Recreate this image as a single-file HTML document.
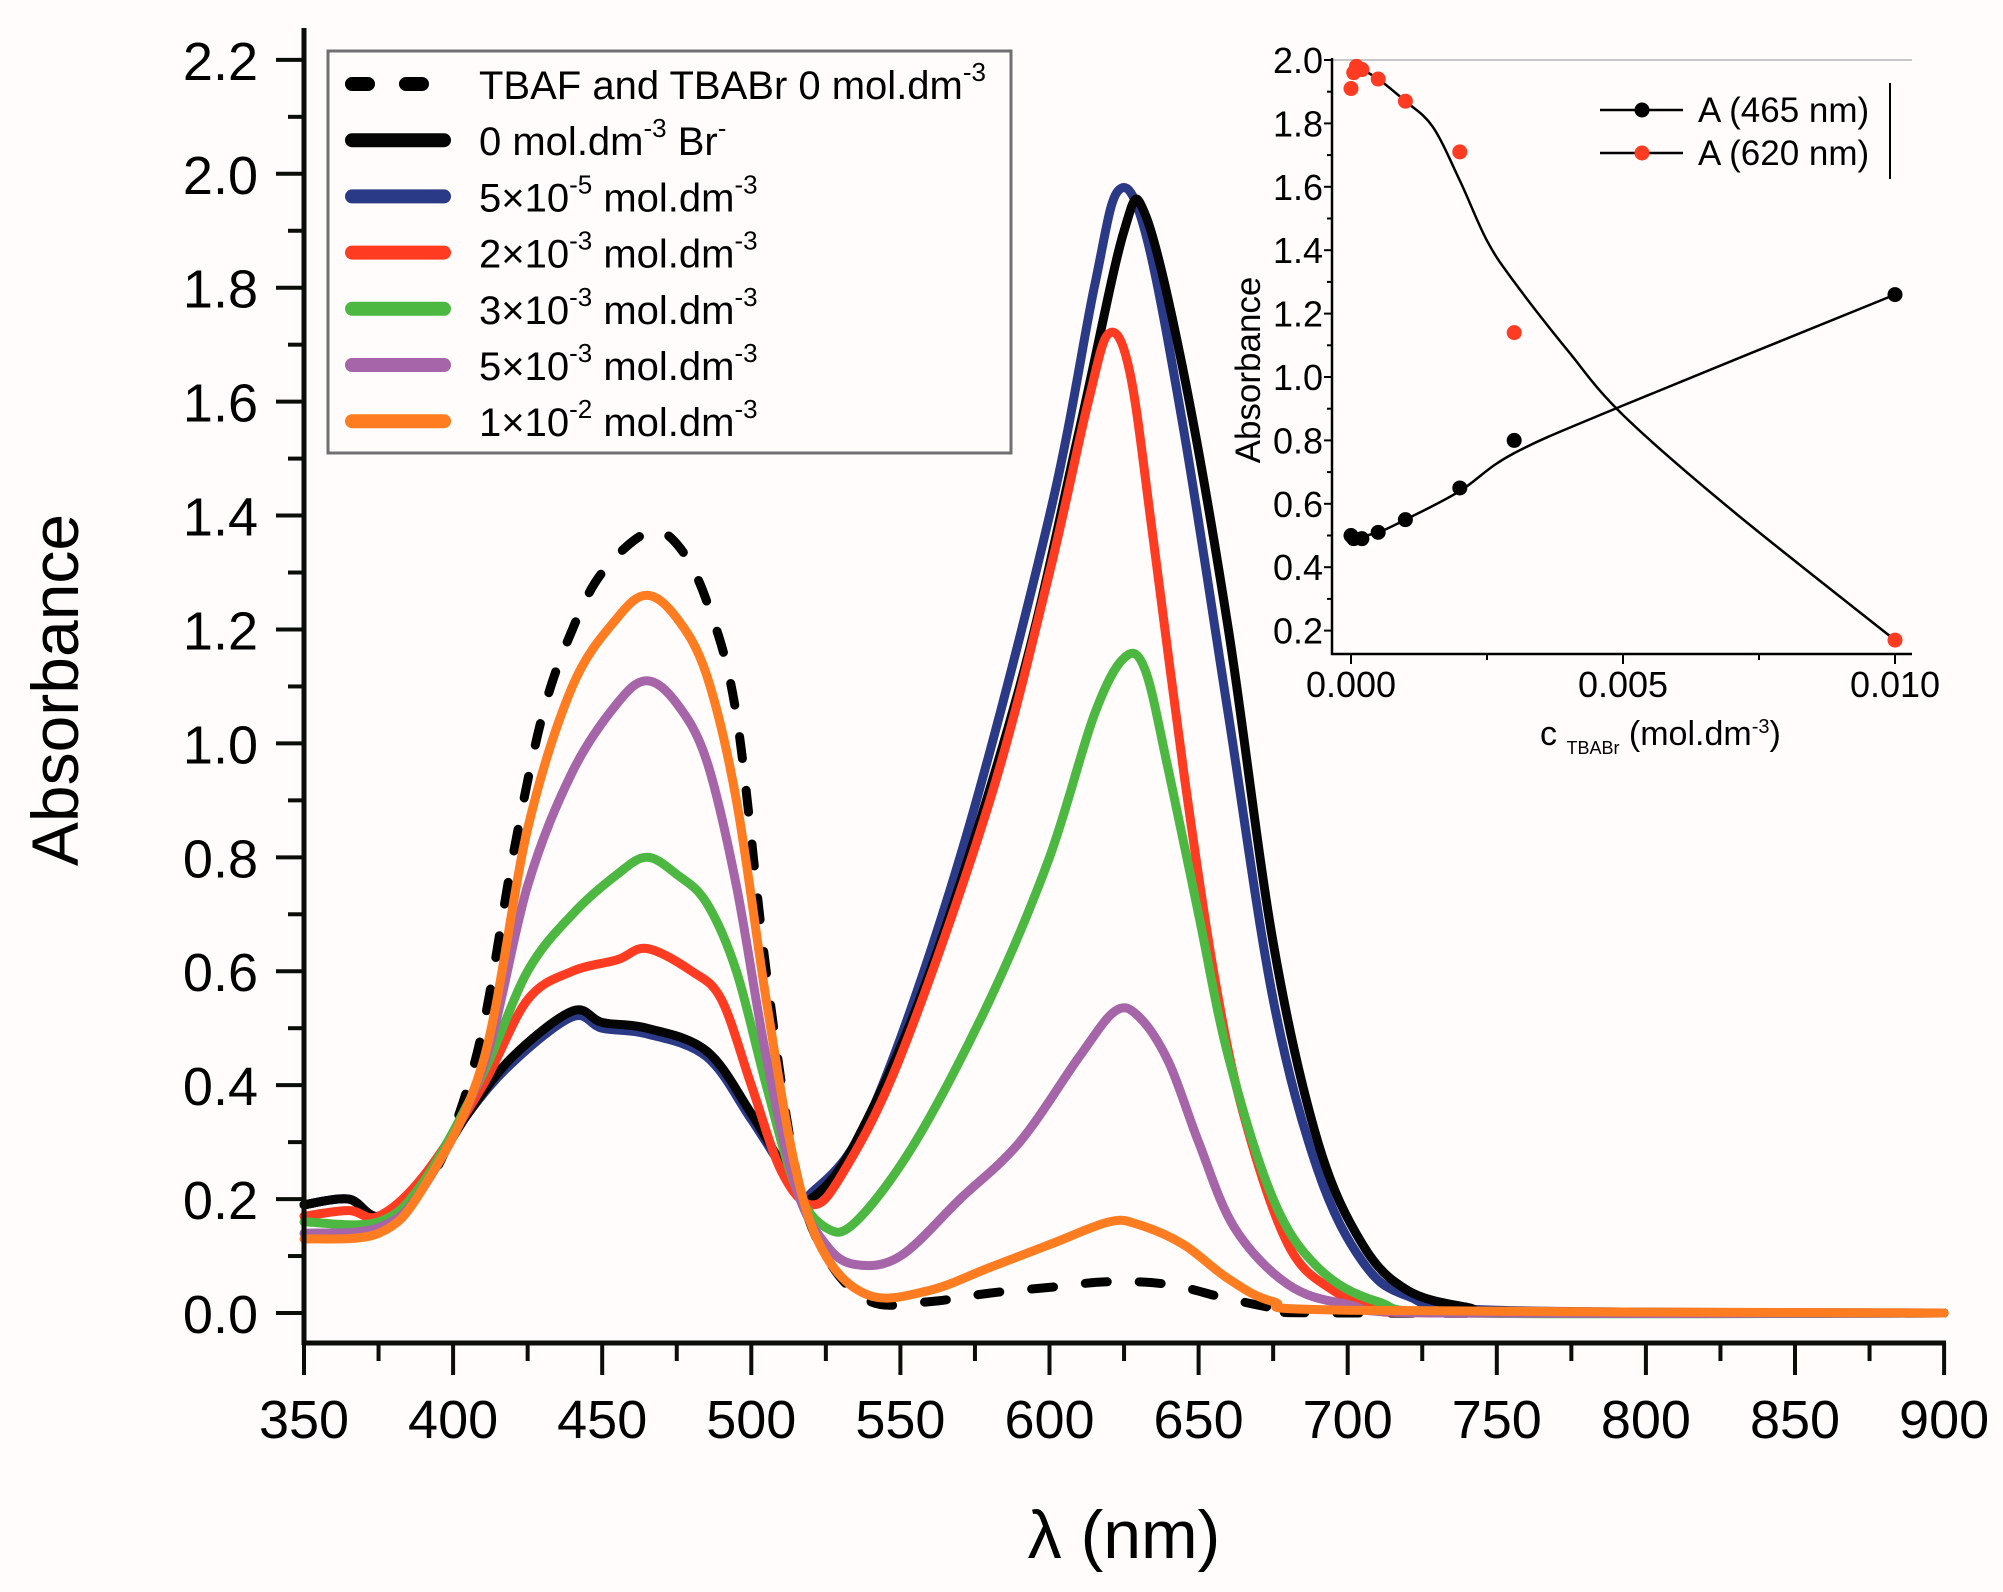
<!DOCTYPE html>
<html><head><meta charset="utf-8">
<style>
html,body{margin:0;padding:0;background:#fffcfb;}
svg{display:block;font-family:"Liberation Sans",Arial,sans-serif;}
</style></head>
<body>
<svg id="s" width="2003" height="1592" viewBox="0 0 2003 1592" xmlns="http://www.w3.org/2000/svg">
<rect width="2003" height="1592" fill="#fffcfb"/>
<g id="main"></g>
<line x1="304" y1="28" x2="304" y2="1345" stroke="#0a0d08" stroke-width="5"/>
<line x1="302" y1="1343" x2="1946" y2="1343" stroke="#0a0d08" stroke-width="5"/>
<g id="ticks" stroke="#0a0d08" stroke-width="4"></g>
<g id="tl" font-size="54" fill="#000"></g>
<text x="1124" y="1558" font-size="68" text-anchor="middle">λ (nm)</text>
<text transform="translate(78,690) rotate(-90)" font-size="66" text-anchor="middle">Absorbance</text>
<rect x="328" y="51" width="683" height="402" fill="#fffcfb" stroke="#707070" stroke-width="3"/>
<g id="leg" font-size="40"></g>
<g id="inset"></g>
</svg>
<script>
const NS="http://www.w3.org/2000/svg";
function el(p,t,a,txt){const e=document.createElementNS(NS,t);for(const k in a)e.setAttribute(k,a[k]);if(txt!==undefined)e.textContent=txt;p.appendChild(e);return e;}
function X(l){return 304+(l-350)*2.982;}
function Y(a){return 1313-569.6*a;}
function smooth(pts){let d="M"+pts[0][0].toFixed(1)+","+pts[0][1].toFixed(1);
 for(let i=0;i<pts.length-1;i++){const p0=pts[i-1]||pts[i],p1=pts[i],p2=pts[i+1],p3=pts[i+2]||p2;
 const c1=[p1[0]+(p2[0]-p0[0])/6,p1[1]+(p2[1]-p0[1])/6],c2=[p2[0]-(p3[0]-p1[0])/6,p2[1]-(p3[1]-p1[1])/6];
 d+=" C"+c1.map(v=>v.toFixed(1))+" "+c2.map(v=>v.toFixed(1))+" "+p2.map(v=>v.toFixed(1));}
 return d;}
const S={
dash:[[350,.19],[365,.2],[375,.17],[390,.22],[400,.32],[410,.5],[420,.8],[430,1.05],[440,1.2],[450,1.3],[465,1.37],[475,1.35],[485,1.25],[495,1.05],[505,.6],[515,.25],[525,.1],[540,.02],[560,.02],[580,.035],[600,.045],[620,.055],[640,.05],[660,.025],[680,.005],[700,0],[900,0]],
black:[[350,.19],[365,.2],[375,.17],[390,.23],[405,.35],[420,.45],[440,.53],[450,.51],[465,.5],[485,.46],[500,.35],[515,.22],[520,.2],[535,.3],[560,.6],[590,1.1],[610,1.55],[625,1.9],[632,1.93],[645,1.65],[660,1.2],[675,.65],[690,.3],[705,.12],[720,.04],[740,.01],[760,0],[900,0]],
blue:[[350,.19],[365,.2],[375,.17],[390,.23],[405,.35],[420,.44],[440,.52],[450,.5],[465,.49],[485,.45],[500,.34],[515,.22],[520,.21],[540,.35],[570,.8],[600,1.4],[615,1.8],[623,1.97],[632,1.9],[645,1.55],[660,1.05],[675,.55],[690,.25],[705,.09],[720,.03],[750,.005],[900,0]],
red:[[350,.17],[365,.18],[375,.17],[390,.24],[410,.4],[425,.55],[440,.6],[455,.62],[465,.64],[480,.6],[490,.55],[500,.4],[510,.25],[520,.19],[530,.24],[550,.45],[580,.9],[600,1.3],[613,1.6],[620,1.72],[627,1.65],[635,1.35],[645,.95],[655,.6],[665,.35],[680,.12],[695,.04],[710,.01],[730,0],[900,0]],
green:[[350,.16],[375,.16],[390,.23],[410,.42],[425,.6],[440,.7],[455,.77],[465,.8],[475,.77],[485,.72],[495,.6],[505,.4],[515,.22],[525,.15],[535,.16],[555,.3],[580,.55],[600,.8],[615,1.05],[625,1.15],[632,1.13],[640,.95],[650,.7],[660,.45],[675,.2],[690,.08],[710,.02],[740,0],[900,0]],
purple:[[350,.14],[375,.15],[390,.22],[410,.43],[425,.75],[440,.95],[455,1.07],[465,1.11],[475,1.07],[485,.97],[495,.75],[505,.45],[515,.22],[525,.12],[535,.085],[550,.1],[570,.2],[590,.3],[610,.45],[622,.53],[630,.52],[640,.44],[650,.3],[662,.15],[680,.05],[700,.015],[730,0],[900,0]],
orange:[[350,.13],[375,.14],[390,.22],[410,.44],[425,.85],[440,1.1],[455,1.22],[465,1.26],[475,1.22],[485,1.12],[495,.9],[505,.55],[515,.25],[525,.1],[540,.03],[560,.04],[580,.08],[600,.12],[620,.16],[630,.155],[645,.12],[660,.06],[675,.02],[700,.005],[900,0]]};
const C={dash:"#000",black:"#050505",blue:"#2b3a87",red:"#ff3b22",green:"#4db841",purple:"#a565a8",orange:"#ff7c20"};
const m=document.getElementById("main");
["dash","blue","black","red","green","purple","orange"].forEach(k=>{
 const a={d:smooth(S[k].map(p=>[X(p[0]),Y(p[1])])),fill:"none",stroke:C[k],"stroke-width":9,"stroke-linejoin":"round","stroke-linecap":"round"};
 if(k=="dash"){a["stroke-dasharray"]="22 32";}
 el(m,"path",a);});
const t=document.getElementById("ticks"),tl=document.getElementById("tl");
for(let l=350;l<=900;l+=25){const x=X(l),maj=(l%50==0);el(t,"line",{x1:x,y1:1343,x2:x,y2:1343+(maj?32:18)});
 if(maj)el(tl,"text",{x:x,y:1438,"text-anchor":"middle"},String(l));}
for(let i=0;i<=22;i++){const y=Y(i*0.1),maj=(i%2==0);el(t,"line",{x1:304,y1:y,x2:304-(maj?28:16),y2:y});
 if(maj)el(tl,"text",{x:258,y:y+20,"text-anchor":"end"},(i/10).toFixed(1));}
const lg=document.getElementById("leg");
const labs=[["dash","TBAF and TBABr  0 mol.dm","-3",""],["black","0 mol.dm","-3"," Br"],["blue","5×10","-5"," mol.dm"],["red","2×10","-3"," mol.dm"],["green","3×10","-3"," mol.dm"],["purple","5×10","-3"," mol.dm"],["orange","1×10","-2"," mol.dm"]];
labs.forEach((r,i)=>{const y=84+i*56.2;
 const a={x1:352,y1:y,x2:444,y2:y,stroke:C[r[0]],"stroke-width":14,"stroke-linecap":"round"};
 if(r[0]=="dash")a["stroke-dasharray"]="16 38";
 el(lg,"line",a);
 const tx=el(lg,"text",{x:479,y:y+15,fill:"#000"});
 el(tx,"tspan",{},r[1]);
 el(tx,"tspan",{dy:-18,"font-size":26},r[2]);
 if(r[3]){el(tx,"tspan",{dy:18},r[3]);
   if(r[0]=="black")el(tx,"tspan",{dy:-18,"font-size":26},"-");
   else el(tx,"tspan",{dy:-18,"font-size":26},"-3");}
});
const g=document.getElementById("inset");
function IX(c){return 1351+c*54400;}function IY(a){return 60+(2-a)*317;}
el(g,"line",{x1:1332,y1:60,x2:1912,y2:60,stroke:"#c8c8c8","stroke-width":2});
el(g,"line",{x1:1332,y1:58,x2:1332,y2:655,stroke:"#000","stroke-width":2.5});
el(g,"line",{x1:1331,y1:654,x2:1912,y2:654,stroke:"#000","stroke-width":2.5});
for(let i=2;i<=20;i++){const y=IY(i*0.1);const maj=i%2==0;
 el(g,"line",{x1:1332,y1:y,x2:1332-(maj?8:5),y2:y,stroke:"#000","stroke-width":2});
 if(maj)el(g,"text",{x:1323,y:y+13,"font-size":36,"text-anchor":"end"},(i/10).toFixed(1));}
[0,0.0025,0.005,0.0075,0.01].forEach((c,i)=>{const x=IX(c);el(g,"line",{x1:x,y1:654,x2:x,y2:654+(i%2==0?10:6),stroke:"#000","stroke-width":2});
 if(i%2==0)el(g,"text",{x:x,y:697,"font-size":36,"text-anchor":"middle"},c.toFixed(3));});
el(g,"text",{transform:"translate(1260,370) rotate(-90)","font-size":35,"text-anchor":"middle"},"Absorbance");
const xl=el(g,"text",{x:1540,y:745,"font-size":34});
el(xl,"tspan",{},"c ");el(xl,"tspan",{"font-size":18,dy:9},"TBABr");el(xl,"tspan",{dy:-9}," (mol.dm");el(xl,"tspan",{"font-size":20,dy:-12},"-3");el(xl,"tspan",{dy:12},")");
const fitB=[[0,.49],[.0005,.51],[.001,.55],[.002,.64],[.003,.76],[.005,.91],[.01,1.26]];
const fitR=[[.0002,1.97],[.0005,1.94],[.001,1.87],[.0015,1.79],[.002,1.62],[.0025,1.43],[.003,1.3],[.004,1.08],[.005,.88],[.007,.58],[.01,.17]];
[fitB,fitR].forEach(f=>el(g,"path",{d:smooth(f.map(p=>[IX(p[0]),IY(p[1])])),fill:"none",stroke:"#000","stroke-width":2.5}));
[[0,.5],[.00005,.49],[.0002,.49],[.0005,.51],[.001,.55],[.002,.65],[.003,.8],[.01,1.26]].forEach(p=>el(g,"circle",{cx:IX(p[0]),cy:IY(p[1]),r:7.5,fill:"#000"}));
[[0,1.91],[.00005,1.96],[.0001,1.98],[.0002,1.97],[.0005,1.94],[.001,1.87],[.002,1.71],[.003,1.14],[.01,.17]].forEach(p=>el(g,"circle",{cx:IX(p[0]),cy:IY(p[1]),r:7.5,fill:"#ff3b22"}));
[[110,"#000","A (465 nm)"],[153,"#ff3b22","A (620 nm)"]].forEach(r=>{
 el(g,"line",{x1:1600,y1:r[0],x2:1683,y2:r[0],stroke:"#000","stroke-width":2.5});
 el(g,"circle",{cx:1642,cy:r[0],r:7.5,fill:r[1]});
 el(g,"text",{x:1698,y:r[0]+12,"font-size":35},r[2]);});
el(g,"line",{x1:1890,y1:83,x2:1890,y2:179,stroke:"#000","stroke-width":2});
</script>
</body></html>
